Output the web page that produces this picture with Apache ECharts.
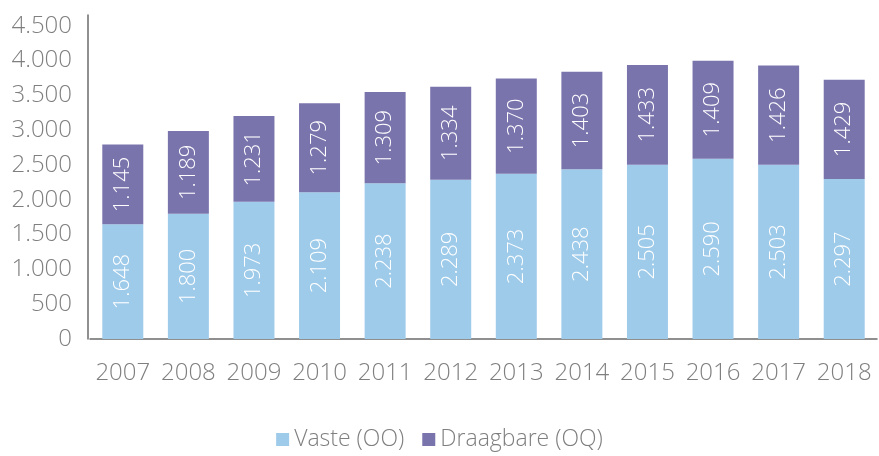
<!DOCTYPE html>
<html>
<head>
<meta charset="utf-8">
<script src="https://cdn.jsdelivr.net/npm/echarts@6/dist/echarts.min.js"></script>
<style>html,body{margin:0;padding:0;background:#fff}#c{width:879px;height:456px}</style>
</head>
<body>
<div id="c"></div>
<script>
const categories = ['2007','2008','2009','2010','2011','2012','2013','2014','2015','2016','2017','2018'];
const vaste = [1648,1800,1973,2109,2238,2289,2373,2438,2505,2590,2503,2297];
const draagbare = [1145,1189,1231,1279,1309,1334,1370,1403,1433,1409,1426,1429];
const seriesNames = ['Vaste (OO)','Draagbare (OQ)'];

const fmt = v => String(v).replace(/\B(?=(\d{3})+(?!\d))/g, '.');
const FONT = '"Open Sans"';
const labelStyle = {
  show: true, position: 'inside', rotate: 90, color: '#ffffff',
  fontFamily: FONT, fontSize: 22, fontWeight: 300,
  formatter: p => fmt(p.value)
};
const chart = echarts.init(document.getElementById('c'));
chart.setOption({
  animation: false,
  grid: { left: 90, top: 15, width: 787, height: 324 },
  legend: {
    bottom: 0, left: 'center', itemWidth: 13, itemHeight: 13, itemGap: 18,
    icon: 'rect',
    textStyle: { color: '#7f7f7f', fontFamily: FONT, fontSize: 23, fontWeight: 300 },
    data: seriesNames
  },
  xAxis: {
    type: 'category', data: categories,
    axisLine: { lineStyle: { color: '#6b6b6b', width: 1.5 } },
    axisTick: { show: false },
    axisLabel: { interval: 0, color: '#7f7f7f', fontFamily: FONT, fontSize: 24, fontWeight: 300, margin: 22 }
  },
  yAxis: {
    type: 'value', min: 0, max: 4655, interval: 500, offset: 2,
    axisLine: { show: true, lineStyle: { color: '#6b6b6b', width: 1.5 } },
    axisTick: { show: false },
    splitLine: { show: false },
    axisLabel: { color: '#7f7f7f', fontFamily: FONT, fontSize: 24, fontWeight: 300, margin: 16,
      showMaxLabel: false, formatter: v => fmt(v) }
  },
  series: [
    { name: seriesNames[0], type: 'bar', stack: 's', data: vaste, barWidth: 41,
      itemStyle: { color: '#9fcbea' }, label: labelStyle },
    { name: seriesNames[1], type: 'bar', stack: 's', data: draagbare, barWidth: 41,
      itemStyle: { color: '#7a74ad' }, label: labelStyle }
  ]
});
</script>
</body>
</html>
